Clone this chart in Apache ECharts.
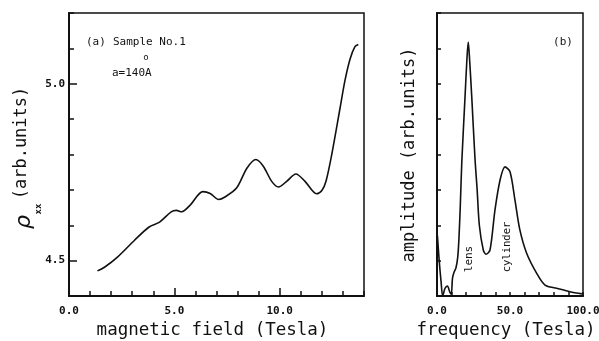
<!DOCTYPE html>
<html>
<head>
<meta charset="utf-8">
<script src="https://cdn.jsdelivr.net/npm/echarts@6/dist/echarts.min.js"></script>
<style>
  html, body { margin: 0; padding: 0; background: #fff; }
  #chart { width: 599px; height: 341px; }
</style>
</head>
<body>
<div id="chart"></div>
<script>
// panel (a): rho_xx vs magnetic field
const fieldTesla = [1.35, 1.7, 2.3, 3.1, 3.8, 4.3, 4.85, 5.1, 5.35, 5.75, 6.35, 6.7, 7.1, 7.4, 7.95, 8.45, 8.87, 9.22, 9.62, 9.94, 10.33, 10.77, 11.2, 11.75, 12.0, 12.2, 12.47, 12.86, 13.1, 13.34, 13.57, 13.73]
const rhoXX = [4.471, 4.482, 4.51, 4.557, 4.595, 4.609, 4.638, 4.642, 4.638, 4.657, 4.695, 4.69, 4.673, 4.68, 4.705, 4.762, 4.786, 4.767, 4.724, 4.708, 4.724, 4.745, 4.724, 4.689, 4.698, 4.725, 4.80, 4.93, 5.01, 5.07, 5.105, 5.111]

// panel (b): fourier amplitude vs frequency
const freqTesla = [0.3, 1.5, 2.8, 3.9, 5.5, 7.1, 8.9, 9.8, 10.6, 11.5, 13, 14.2, 15, 16, 17, 19.2, 20.5, 21.4, 22.3, 23.8, 26, 27.5, 29, 31.7, 33.6, 36.3, 39.7, 43.2, 46.6, 50, 53.4, 56.8, 61.4, 68.3, 74, 82, 91, 99.5]
const amplitude = [1.7, 1.0, 0.4, 0.0, 0.22, 0.28, 0.1, 0.05, 0.5, 0.65, 0.8, 1.1, 1.6, 2.6, 3.8, 5.63, 6.7, 7.18, 6.7, 5.63, 3.9, 3.0, 2.0, 1.3, 1.18, 1.3, 2.43, 3.28, 3.65, 3.51, 2.71, 1.86, 1.21, 0.64, 0.31, 0.22, 0.12, 0.06]

const xLabelsA = [0, 5, 10]
const yLabelsA = [4.5, 5.0]
const xLabelsB = [0, 50, 100]

const mono = '"DejaVu Sans Mono", "Liberation Mono", monospace'

const chart = echarts.init(document.getElementById('chart'))

const frame = { show: true, borderColor: '#111', borderWidth: 1.5, backgroundColor: 'transparent', outerBoundsMode: 'none', containLabel: false }
const bare = { show: false, outerBoundsMode: 'none', containLabel: false }
const fmt = (v) => v.toFixed(1)
const tickLabel = { color: '#111', fontFamily: mono, fontWeight: 'bold', fontSize: 11, margin: 10, formatter: fmt }
const axisLine = { lineStyle: { color: '#111', width: 2 } }
const tick = (len) => ({ inside: true, length: len, lineStyle: { color: '#111', width: 1.5 } })
const off = { show: false }
const titleFont = { fontFamily: mono, fontSize: 17.5, color: '#111', verticalAlign: 'top' }

chart.setOption({
  animation: false,
  backgroundColor: '#fff',
  grid: [
    { left: 69, top: 13, width: 295, height: 283, ...frame },
    { left: 437, top: 13, width: 146, height: 283, ...frame },
    // overlay of panel (a), only for the longer major ticks
    { left: 69, top: 13, width: 295, height: 283, ...bare }
  ],
  xAxis: [
    {
      type: 'value', gridIndex: 0, min: 0, max: 14, interval: 1,
      axisLine, splitLine: off, axisTick: tick(5),
      axisLabel: { ...tickLabel, customValues: xLabelsA },
      name: 'magnetic field (Tesla)', nameLocation: 'middle', nameGap: 18,
      nameTextStyle: { ...titleFont, padding: [0, 8, 0, 0] }
    },
    {
      type: 'value', gridIndex: 1, min: 0, max: 100, interval: 10,
      axisLine, splitLine: off, axisTick: tick(4),
      axisLabel: { ...tickLabel, customValues: xLabelsB },
      name: 'frequency (Tesla)', nameLocation: 'middle', nameGap: 18,
      nameTextStyle: { ...titleFont, padding: [0, 8, 0, 0] }
    },
    {
      type: 'value', gridIndex: 2, min: 0, max: 14,
      axisLine: off, splitLine: off, axisLabel: off,
      axisTick: { ...tick(8), customValues: [5, 10] }
    }
  ],
  yAxis: [
    {
      type: 'value', gridIndex: 0, min: 4.4, max: 5.2, interval: 0.1,
      axisLine, splitLine: off, axisTick: tick(5),
      axisLabel: { ...tickLabel, customValues: yLabelsA, margin: 4 }
    },
    {
      type: 'value', gridIndex: 1, min: 0, max: 8, interval: 1,
      axisLine, splitLine: off, axisTick: tick(4), axisLabel: off
    },
    {
      type: 'value', gridIndex: 2, min: 4.4, max: 5.2,
      axisLine: off, splitLine: off, axisLabel: off,
      axisTick: { ...tick(8), customValues: yLabelsA }
    }
  ],
  series: [
    {
      type: 'line', xAxisIndex: 0, yAxisIndex: 0, smooth: 0.3, showSymbol: false,
      lineStyle: { color: '#111', width: 1.6 },
      data: fieldTesla.map((b, i) => [b, rhoXX[i]])
    },
    {
      type: 'line', xAxisIndex: 1, yAxisIndex: 1, smooth: 0.3, showSymbol: false,
      lineStyle: { color: '#111', width: 1.6 },
      data: freqTesla.map((f, i) => [f, amplitude[i]])
    }
  ],
  graphic: [
    { type: 'text', x: 22, y: 143, rotation: Math.PI / 2,
      style: { text: '(arb.units)', font: '17px ' + mono, fill: '#111', textAlign: 'center', textVerticalAlign: 'middle' } },
    { type: 'text', x: 24, y: 222, rotation: Math.PI / 2,
      style: { text: 'ρ', font: 'italic 22px "DejaVu Sans", sans-serif', fill: '#111', textAlign: 'center', textVerticalAlign: 'middle' } },
    { type: 'text', x: 39, y: 209, rotation: Math.PI / 2,
      style: { text: 'xx', font: 'bold 9px ' + mono, fill: '#111', textAlign: 'center', textVerticalAlign: 'middle' } },
    { type: 'text', x: 410, y: 155, rotation: Math.PI / 2,
      style: { text: 'amplitude (arb.units)', font: '17px ' + mono, fill: '#111', textAlign: 'center', textVerticalAlign: 'middle' } },
    { type: 'text', x: 86, y: 42,
      style: { text: '(a)', font: '11px ' + mono, fill: '#111', textVerticalAlign: 'middle' } },
    { type: 'text', x: 113, y: 42,
      style: { text: 'Sample No.1', font: '11px ' + mono, fill: '#111', textVerticalAlign: 'middle' } },
    { type: 'text', x: 146, y: 58,
      style: { text: 'o', font: '9px ' + mono, fill: '#111', textAlign: 'center', textVerticalAlign: 'middle' } },
    { type: 'text', x: 112, y: 73,
      style: { text: 'a=140A', font: '11px ' + mono, fill: '#111', textVerticalAlign: 'middle' } },
    { type: 'text', x: 563, y: 42,
      style: { text: '(b)', font: '11px ' + mono, fill: '#111', textAlign: 'center', textVerticalAlign: 'middle' } },
    { type: 'text', x: 469, y: 259, rotation: Math.PI / 2,
      style: { text: 'lens', font: '11px ' + mono, fill: '#111', textAlign: 'center', textVerticalAlign: 'middle' } },
    { type: 'text', x: 507, y: 247, rotation: Math.PI / 2,
      style: { text: 'cylinder', font: '10.5px ' + mono, fill: '#111', textAlign: 'center', textVerticalAlign: 'middle' } }
  ]
})
</script>
</body>
</html>
